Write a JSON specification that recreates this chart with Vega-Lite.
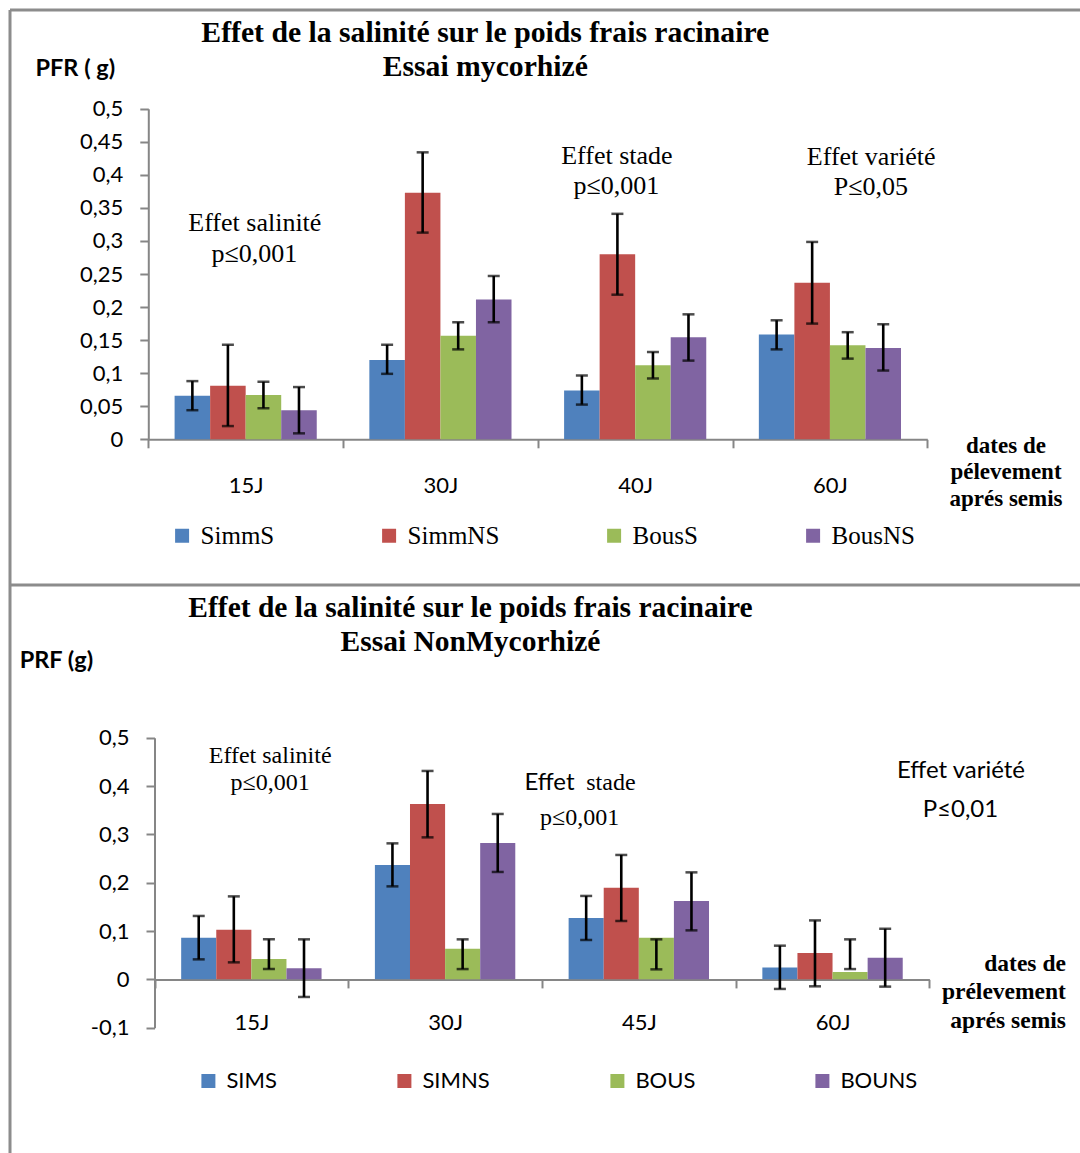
{
  "$schema": "https://vega.github.io/schema/vega-lite/v6.json",
  "background": "white",
  "padding": {"left": 8, "top": 8, "right": 0, "bottom": 0},
  "spacing": 0,
  "bounds": "flush",
  "config": {
    "axis": {
      "labelFont": "Lato", "labelFontSize": 22, "labelColor": "#000000",
      "domainColor": "#868686", "tickColor": "#868686", "domainWidth": 2, "tickWidth": 2,
      "tickSize": 8.5, "grid": false, "titleColor": "#000000"
    },
    "legend": {"labelColor": "#000000"}
  },
  "datasets": {
    "myco": [
      {"date": "15J", "serie": "SimmS", "v": 0.066, "lo": 0.044, "hi": 0.088},
      {"date": "15J", "serie": "SimmNS", "v": 0.081, "lo": 0.020, "hi": 0.143},
      {"date": "15J", "serie": "BousS", "v": 0.067, "lo": 0.047, "hi": 0.087},
      {"date": "15J", "serie": "BousNS", "v": 0.044, "lo": 0.009, "hi": 0.079},
      {"date": "30J", "serie": "SimmS", "v": 0.120, "lo": 0.099, "hi": 0.143},
      {"date": "30J", "serie": "SimmNS", "v": 0.373, "lo": 0.3126, "hi": 0.434},
      {"date": "30J", "serie": "BousS", "v": 0.1565, "lo": 0.136, "hi": 0.177},
      {"date": "30J", "serie": "BousNS", "v": 0.2116, "lo": 0.177, "hi": 0.247},
      {"date": "40J", "serie": "SimmS", "v": 0.0737, "lo": 0.0525, "hi": 0.0965},
      {"date": "40J", "serie": "SimmNS", "v": 0.2798, "lo": 0.2187, "hi": 0.341},
      {"date": "40J", "serie": "BousS", "v": 0.112, "lo": 0.092, "hi": 0.132},
      {"date": "40J", "serie": "BousNS", "v": 0.1545, "lo": 0.119, "hi": 0.189},
      {"date": "60J", "serie": "SimmS", "v": 0.1586, "lo": 0.136, "hi": 0.180},
      {"date": "60J", "serie": "SimmNS", "v": 0.2369, "lo": 0.175, "hi": 0.2985},
      {"date": "60J", "serie": "BousS", "v": 0.1424, "lo": 0.122, "hi": 0.162},
      {"date": "60J", "serie": "BousNS", "v": 0.138, "lo": 0.104, "hi": 0.174}
    ],
    "nonmyco": [
      {"date": "15J", "serie": "SIMS", "v": 0.0863, "lo": 0.0414, "hi": 0.1312},
      {"date": "15J", "serie": "SIMNS", "v": 0.1028, "lo": 0.0352, "hi": 0.1717},
      {"date": "15J", "serie": "BOUS", "v": 0.0422, "lo": 0.0213, "hi": 0.0828},
      {"date": "15J", "serie": "BOUNS", "v": 0.0228, "lo": -0.0364, "hi": 0.0828},
      {"date": "30J", "serie": "SIMS", "v": 0.2367, "lo": 0.1924, "hi": 0.2814},
      {"date": "30J", "serie": "SIMNS", "v": 0.3629, "lo": 0.2938, "hi": 0.4312},
      {"date": "30J", "serie": "BOUS", "v": 0.0635, "lo": 0.0213, "hi": 0.0828},
      {"date": "30J", "serie": "BOUNS", "v": 0.2822, "lo": 0.2222, "hi": 0.3422},
      {"date": "45J", "serie": "SIMS", "v": 0.127, "lo": 0.0815, "hi": 0.1726},
      {"date": "45J", "serie": "SIMNS", "v": 0.1897, "lo": 0.1208, "hi": 0.2574},
      {"date": "45J", "serie": "BOUS", "v": 0.0863, "lo": 0.0207, "hi": 0.0828},
      {"date": "45J", "serie": "BOUNS", "v": 0.162, "lo": 0.1014, "hi": 0.2214},
      {"date": "60J", "serie": "SIMS", "v": 0.0248, "lo": -0.0198, "hi": 0.0697},
      {"date": "60J", "serie": "SIMNS", "v": 0.0545, "lo": -0.0144, "hi": 0.122},
      {"date": "60J", "serie": "BOUS", "v": 0.0153, "lo": 0.0213, "hi": 0.0828},
      {"date": "60J", "serie": "BOUNS", "v": 0.0448, "lo": -0.015, "hi": 0.1047}
    ],
    "title_myco": [
      {"t": "Effet  de la salinité sur le poids frais racinaire", "px": 1.7304, "py": 0.6009},
      {"t": "Essai mycorhizé", "px": 1.7304, "py": 0.5495}
    ],
    "notes_myco": [
      {"t": "Effet salinité", "px": 0.547, "py": 0.3146},
      {"t": "p≤0,001", "px": 0.545, "py": 0.2682},
      {"t": "Effet stade", "px": 2.406, "py": 0.4168},
      {"t": "p≤0,001", "px": 2.404, "py": 0.3714},
      {"t": "Effet variété", "px": 3.712, "py": 0.4144},
      {"t": "P≤0,05", "px": 3.710, "py": 0.369}
    ],
    "title_nonmyco": [
      {"t": "Effet de la salinité sur le poids frais racinaire", "px": 1.631, "py": 0.7505},
      {"t": "Essai  NonMycorhizé", "px": 1.631, "py": 0.6795}
    ],
    "notes_nonmyco_serif": [
      {"t": "Effet salinité", "px": 0.597, "py": 0.4469},
      {"t": "p≤0,001", "px": 0.597, "py": 0.3919},
      {"t": "stade", "px": 2.356, "py": 0.3919},
      {"t": "p≤0,001", "px": 2.194, "py": 0.3195}
    ],
    "notes_nonmyco_sans": [
      {"t": "Effet", "px": 2.039, "py": 0.3919},
      {"t": "Effet  variété", "px": 4.163, "py": 0.4159},
      {"t": "P≤0,01", "px": 4.16, "py": 0.3352}
    ]
  },
  "resolve": {"scale": {"color": "independent", "xOffset": "independent"}, "legend": {"color": "independent"}},
  "vconcat": [
    {
      "width": 1070,
      "height": 575,
      "view": {"stroke": "#8c8c8c", "strokeWidth": 3, "strokeDash": [1070, 1645, 575, 0]},
      "resolve": {"scale": {"x": "independent", "y": "independent"}, "axis": {"x": "independent", "y": "independent"}},
      "layer": [
        {
          "data": {"name": "myco"},
          "encoding": {
            "x": {
              "field": "date", "type": "nominal",
              "scale": {"domain": ["15J", "30J", "40J", "60J"], "range": [138.3, 917.3], "paddingInner": 0, "paddingOuter": 0},
              "axis": {
                "offset": -145.7, "tickBand": "extent", "labelAngle": 0, "labelPadding": 27.5,
                "title": ["dates de", "pélevement", "aprés semis"],
                "titleX": 995.5, "titleY": 13, "titleAlign": "center", "titleBaseline": "alphabetic",
                "titleLineHeight": 26.7, "titleFont": "Liberation Serif", "titleFontSize": 23, "titleFontWeight": "bold"
              }
            },
            "xOffset": {"field": "serie", "scale": {"domain": ["SimmS", "SimmNS", "BousS", "BousNS"], "range": [0, 194.75], "paddingInner": 0, "paddingOuter": 0.74}}
          },
          "layer": [
            {
              "mark": {"type": "bar"},
              "encoding": {
                "y": {
                  "field": "v", "type": "quantitative",
                  "scale": {"domain": [0, 0.5], "range": [429.3, 98.7], "nice": false},
                  "axis": {
                    "values": [0, 0.05, 0.1, 0.15, 0.2, 0.25, 0.3, 0.35, 0.4, 0.45, 0.5],
                    "labelExpr": "replace(format(datum.value, '~g'), '.', ',')",
                    "offset": -138.3, "labelPadding": 17,
                    "title": "PFR ( g)", "titleAngle": 0, "titleX": -113.3, "titleY": 65.3,
                    "titleAlign": "left", "titleBaseline": "alphabetic",
                    "titleFont": "Lato", "titleFontSize": 23.5, "titleFontWeight": "bold"
                  }
                },
                "color": {
                  "field": "serie", "type": "nominal",
                  "scale": {"domain": ["SimmS", "SimmNS", "BousS", "BousNS"], "range": ["#4F81BD", "#C0504D", "#9BBB59", "#8064A2"]},
                  "legend": {
                    "title": null, "orient": "none", "legendX": 159.6, "legendY": 513, "direction": "horizontal",
                    "symbolType": "square", "symbolSize": 196, "symbolStrokeWidth": 0, "symbolOpacity": 1,
                    "labelFont": "Liberation Serif", "labelFontSize": 25, "labelOffset": 6,
                    "columnPadding": 102, "padding": 0
                  }
                }
              }
            },
            {
              "mark": {"type": "rule", "color": "#000000", "strokeWidth": 2.6},
              "encoding": {"y": {"field": "lo", "type": "quantitative"}, "y2": {"field": "hi"}}
            },
            {
              "mark": {"type": "tick", "color": "#000000", "size": 12, "thickness": 2.5},
              "encoding": {"y": {"field": "lo", "type": "quantitative"}}
            },
            {
              "mark": {"type": "tick", "color": "#000000", "size": 12, "thickness": 2.5},
              "encoding": {"y": {"field": "hi", "type": "quantitative"}}
            }
          ]
        },
        {
          "data": {"name": "title_myco"},
          "mark": {"type": "text", "font": "Liberation Serif", "fontSize": 29.7, "fontWeight": "bold", "align": "center", "baseline": "alphabetic", "color": "#000000"},
          "encoding": {
            "x": {"field": "px", "type": "quantitative", "scale": {"domain": [0, 4], "range": [138.3, 917.3], "nice": false, "zero": false}, "axis": null},
            "y": {"field": "py", "type": "quantitative", "scale": {"domain": [0, 0.5], "range": [429.3, 98.7], "nice": false}, "axis": null},
            "text": {"field": "t"}
          }
        },
        {
          "data": {"name": "notes_myco"},
          "mark": {"type": "text", "font": "Liberation Serif", "fontSize": 26, "align": "center", "baseline": "alphabetic", "color": "#000000"},
          "encoding": {
            "x": {"field": "px", "type": "quantitative", "scale": {"domain": [0, 4], "range": [138.3, 917.3], "nice": false, "zero": false}, "axis": null},
            "y": {"field": "py", "type": "quantitative", "scale": {"domain": [0, 0.5], "range": [429.3, 98.7], "nice": false}, "axis": null},
            "text": {"field": "t"}
          }
        }
      ]
    },
    {
      "width": 1070,
      "height": 568,
      "view": {"stroke": "#8c8c8c", "strokeWidth": 3, "strokeDash": [1070, 1638, 568, 0]},
      "resolve": {"scale": {"x": "independent", "y": "independent"}, "axis": {"x": "independent", "y": "independent"}},
      "layer": [
        {
          "data": {"name": "nonmyco"},
          "encoding": {
            "x": {
              "field": "date", "type": "nominal",
              "scale": {"domain": ["15J", "30J", "45J", "60J"], "range": [144.5, 919.4], "paddingInner": 0, "paddingOuter": 0},
              "axis": {
                "offset": -173.6, "tickBand": "extent", "labelAngle": 0, "labelPadding": 24.5,
                "title": ["dates de", "prélevement", "aprés semis"],
                "titleX": 1055.4, "titleY": -9.4, "titleAlign": "right", "titleBaseline": "alphabetic",
                "titleLineHeight": 28.5, "titleFont": "Liberation Serif", "titleFontSize": 23.5, "titleFontWeight": "bold"
              }
            },
            "xOffset": {"field": "serie", "scale": {"domain": ["SIMS", "SIMNS", "BOUS", "BOUNS"], "range": [0, 193.73], "paddingInner": 0, "paddingOuter": 0.76}}
          },
          "layer": [
            {
              "mark": {"type": "bar"},
              "encoding": {
                "y": {
                  "field": "v", "type": "quantitative",
                  "scale": {"domain": [-0.1, 0.5], "range": [442.7, 152.7], "nice": false},
                  "axis": {
                    "values": [-0.1, 0, 0.1, 0.2, 0.3, 0.4, 0.5],
                    "labelExpr": "replace(replace(format(datum.value, '~g'), '.', ','), '\u2212', '-')",
                    "offset": -144.5, "labelPadding": 17,
                    "title": "PRF (g)", "titleAngle": 0, "titleX": -135.3, "titleY": 82,
                    "titleAlign": "left", "titleBaseline": "alphabetic",
                    "titleFont": "Lato", "titleFontSize": 23.5, "titleFontWeight": "bold"
                  }
                },
                "color": {
                  "field": "serie", "type": "nominal",
                  "scale": {"domain": ["SIMS", "SIMNS", "BOUS", "BOUNS"], "range": ["#4F81BD", "#C0504D", "#9BBB59", "#8064A2"]},
                  "legend": {
                    "title": null, "orient": "none", "legendX": 187.4, "legendY": 485, "direction": "horizontal",
                    "symbolType": "square", "symbolSize": 196, "symbolStrokeWidth": 0, "symbolOpacity": 1,
                    "labelFont": "Lato", "labelFontSize": 22, "labelOffset": 7,
                    "columnPadding": 116, "padding": 0
                  }
                }
              }
            },
            {
              "mark": {"type": "rule", "color": "#000000", "strokeWidth": 2.6},
              "encoding": {"y": {"field": "lo", "type": "quantitative"}, "y2": {"field": "hi"}}
            },
            {
              "mark": {"type": "tick", "color": "#000000", "size": 12, "thickness": 2.5},
              "encoding": {"y": {"field": "lo", "type": "quantitative"}}
            },
            {
              "mark": {"type": "tick", "color": "#000000", "size": 12, "thickness": 2.5},
              "encoding": {"y": {"field": "hi", "type": "quantitative"}}
            }
          ]
        },
        {
          "data": {"name": "title_nonmyco"},
          "mark": {"type": "text", "font": "Liberation Serif", "fontSize": 29.5, "fontWeight": "bold", "align": "center", "baseline": "alphabetic", "color": "#000000"},
          "encoding": {
            "x": {"field": "px", "type": "quantitative", "scale": {"domain": [0, 4], "range": [144.5, 919.4], "nice": false, "zero": false}, "axis": null},
            "y": {"field": "py", "type": "quantitative", "scale": {"domain": [-0.1, 0.5], "range": [442.7, 152.7], "nice": false}, "axis": null},
            "text": {"field": "t"}
          }
        },
        {
          "data": {"name": "notes_nonmyco_serif"},
          "mark": {"type": "text", "font": "Liberation Serif", "fontSize": 24, "align": "center", "baseline": "alphabetic", "color": "#000000"},
          "encoding": {
            "x": {"field": "px", "type": "quantitative", "scale": {"domain": [0, 4], "range": [144.5, 919.4], "nice": false, "zero": false}, "axis": null},
            "y": {"field": "py", "type": "quantitative", "scale": {"domain": [-0.1, 0.5], "range": [442.7, 152.7], "nice": false}, "axis": null},
            "text": {"field": "t"}
          }
        },
        {
          "data": {"name": "notes_nonmyco_sans"},
          "mark": {"type": "text", "font": "Lato", "fontSize": 24, "align": "center", "baseline": "alphabetic", "color": "#000000"},
          "encoding": {
            "x": {"field": "px", "type": "quantitative", "scale": {"domain": [0, 4], "range": [144.5, 919.4], "nice": false, "zero": false}, "axis": null},
            "y": {"field": "py", "type": "quantitative", "scale": {"domain": [-0.1, 0.5], "range": [442.7, 152.7], "nice": false}, "axis": null},
            "text": {"field": "t"}
          }
        }
      ]
    }
  ]
}
